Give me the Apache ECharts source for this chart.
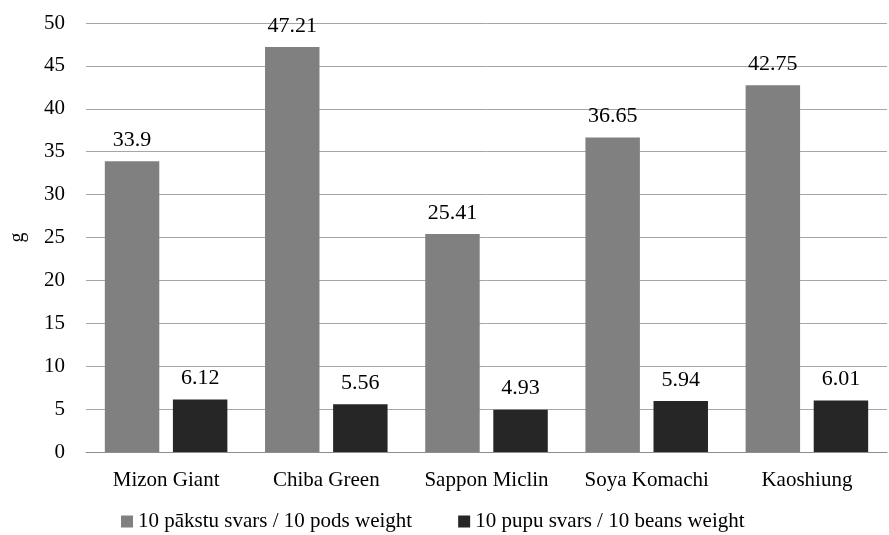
<!DOCTYPE html>
<html>
<head>
<meta charset="utf-8">
<script src="https://cdn.jsdelivr.net/npm/echarts@6/dist/echarts.min.js"></script>
<style>
  html, body { margin: 0; padding: 0; background: #fff; }
  #chart { width: 889px; height: 535px; }
</style>
</head>
<body>
<div id="chart"></div>
<script>
// Varieties on the x axis
const categories = ['Mizon Giant', 'Chiba Green', 'Sappon Miclin', 'Soya Komachi', 'Kaoshiung'];
// Weight of 10 pods, g
const podsWeight = [33.9, 47.21, 25.41, 36.65, 42.75];
// Weight of 10 beans, g
const beansWeight = [6.12, 5.56, 4.93, 5.94, 6.01];
const seriesNames = ['10 pākstu svars / 10 pods weight', '10 pupu svars / 10 beans weight'];

const FONT = '"Liberation Serif", "Times New Roman", serif';
const chart = echarts.init(document.getElementById('chart'));

const labelStyle = {
  show: true,
  position: 'top',
  distance: 10,
  color: '#000',
  fontFamily: FONT,
  fontSize: 22
};

chart.setOption({
  animation: false,
  grid: { left: 83, right: 2, top: 23, bottom: 83 },
  legend: {
    bottom: -2,
    left: 116,
    itemWidth: 12,
    itemHeight: 12,
    itemGap: 46,
    itemSpacing: 6,
    icon: 'rect',
    textStyle: { fontFamily: FONT, fontSize: 21, color: '#000' },
    data: seriesNames
  },
  xAxis: {
    type: 'category',
    data: categories,
    axisTick: { show: false },
    axisLine: { lineStyle: { color: '#8c8c8c', width: 1 } },
    axisLabel: {
      color: '#000', fontFamily: FONT, fontSize: 21, margin: 18,
      interval: 0, hideOverlap: false
    }
  },
  yAxis: {
    type: 'value',
    min: 0,
    max: 50,
    interval: 5,
    name: 'g',
    nameLocation: 'middle',
    nameGap: 58,
    nameRotate: 90,
    nameTextStyle: { color: '#000', fontFamily: FONT, fontSize: 20 },
    axisLine: { show: false },
    axisTick: { show: false },
    axisLabel: { color: '#000', fontFamily: FONT, fontSize: 21, margin: 21 },
    splitLine: { lineStyle: { color: '#a6a6a6', width: 1 } }
  },
  series: [
    {
      name: seriesNames[0],
      type: 'bar',
      data: podsWeight,
      barWidth: '34%',
      barGap: '25%',
      itemStyle: { color: '#808080' },
      label: labelStyle
    },
    {
      name: seriesNames[1],
      type: 'bar',
      data: beansWeight,
      barWidth: '34%',
      itemStyle: { color: '#262626' },
      label: labelStyle
    }
  ]
});
</script>
</body>
</html>
